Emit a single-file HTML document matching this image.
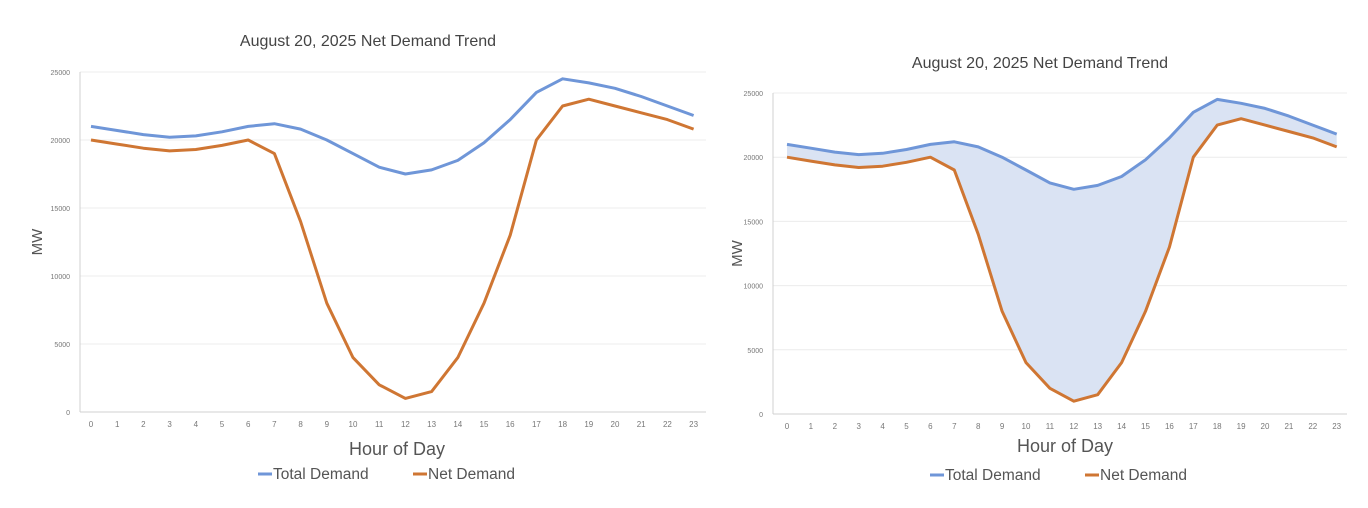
<!DOCTYPE html>
<html><head><style>body{margin:0;background:#fff}svg{display:block}</style></head>
<body>
<svg width="1368" height="508" xmlns="http://www.w3.org/2000/svg" font-family="Liberation Sans, sans-serif">
<rect width="1368" height="508" fill="#fff"/>
<g id="c"></g>
</svg>
<script>
const T=[21000,20700,20400,20200,20300,20600,21000,21200,20800,20000,19000,18000,17500,17800,18500,19800,21500,23500,24500,24200,23800,23200,22500,21800];
const N=[20000,19700,19400,19200,19300,19600,20000,19000,14000,8000,4000,2000,1000,1500,4000,8000,13000,20000,22500,23000,22500,22000,21500,20800];
function chart(o){
 let s='';
 const X=i=>o.x0+i*o.dx, Y=v=>o.y0-v*(o.y0-o.y25)/25000;
 for(let k=1;k<=5;k++){s+=`<line x1="${o.ax}" x2="${o.ax2}" y1="${Y(k*5000)}" y2="${Y(k*5000)}" stroke="#ececec" stroke-width="1"/>`;}
 for(let k=0;k<=5;k++){s+=`<text x="${o.ax-10}" y="${Y(k*5000)+3}" font-size="7" fill="#777" text-anchor="end">${k*5000}</text>`;}
 s+=`<line x1="${o.ax}" x2="${o.ax}" y1="${o.y25}" y2="${o.y0}" stroke="#d0d0d0"/>`;
 s+=`<line x1="${o.ax}" x2="${o.ax2}" y1="${o.y0}" y2="${o.y0}" stroke="#d0d0d0"/>`;
 for(let i=0;i<24;i++)s+=`<text x="${X(i)}" y="${o.y0+15}" font-size="8" fill="#777" text-anchor="middle">${i}</text>`;
 const pt=a=>a.map((v,i)=>X(i).toFixed(1)+','+Y(v).toFixed(1)).join(' ');
 if(o.fill){s+=`<polygon points="${pt(T)} ${N.map((v,i)=>[X(i).toFixed(1)+','+Y(v).toFixed(1)]).reverse().join(' ')}" fill="#dae3f3" stroke="none"/>`;}
 s+=`<polyline points="${pt(T)}" fill="none" stroke="#6f96d8" stroke-width="3" stroke-linejoin="round"/>`;
 s+=`<polyline points="${pt(N)}" fill="none" stroke="#cf7633" stroke-width="3" stroke-linejoin="round"/>`;
 s+=`<text x="${o.tx}" y="${o.ty}" font-size="16" fill="#444" text-anchor="middle">August 20, 2025 Net Demand Trend</text>`;
 s+=`<text x="${o.hx}" y="${o.hy}" font-size="18" fill="#555" text-anchor="middle">Hour of Day</text>`;
 s+=`<text transform="translate(${o.mwx},${(o.y0+o.y25)/2}) rotate(-90)" font-size="15" fill="#555" text-anchor="middle">MW</text>`;
 s+=`<line x1="${o.lx}" x2="${o.lx+14}" y1="${o.ly-5}" y2="${o.ly-5}" stroke="#6f96d8" stroke-width="3"/><text x="${o.lx+15}" y="${o.ly}" font-size="15.5" fill="#555">Total Demand</text>`;
 s+=`<line x1="${o.lx+155}" x2="${o.lx+169}" y1="${o.ly-5}" y2="${o.ly-5}" stroke="#cf7633" stroke-width="3"/><text x="${o.lx+170}" y="${o.ly}" font-size="15.5" fill="#555">Net Demand</text>`;
 return s;
}
document.getElementById('c').innerHTML=
 chart({x0:91,dx:26.2,y0:412,y25:72,ax:80,ax2:706,tx:368,ty:46,hx:397,hy:455,mwx:42,lx:258,ly:479})+
 chart({x0:787,dx:23.9,y0:414,y25:93,ax:773,ax2:1347,tx:1040,ty:68,hx:1065,hy:452,mwx:742,lx:930,ly:480,fill:true});
</script>
</body></html>
